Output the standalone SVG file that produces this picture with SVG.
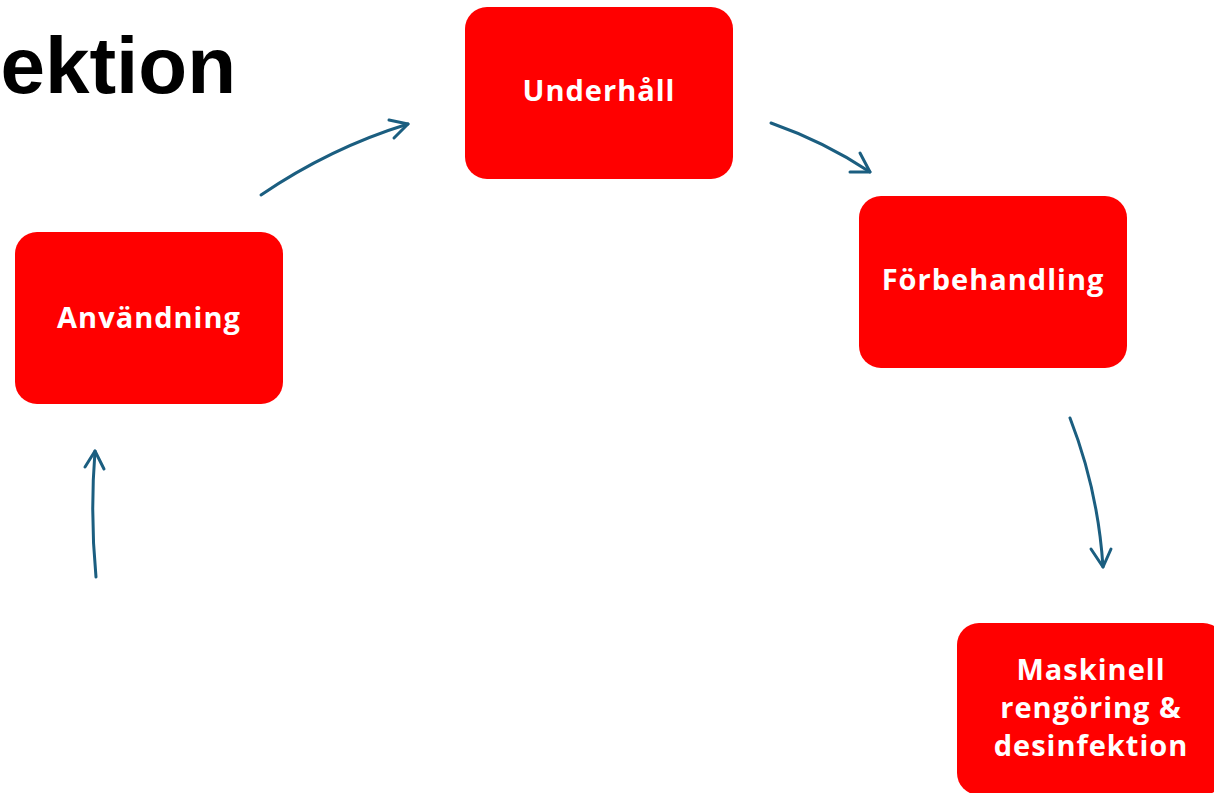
<svg xmlns="http://www.w3.org/2000/svg" width="1214" height="793" viewBox="0 0 1214 793">
  <defs>
    <style>
      .box { fill: #ff0000; }
      .label { fill: #ffffff; font-family: "Open Sans", "Liberation Sans", sans-serif; font-weight: 700; font-size: 29px; letter-spacing: 1px; text-anchor: middle; }
      .title { fill: #000000; font-family: "Liberation Sans", Arial, sans-serif; font-weight: 700; font-size: 80px; text-anchor: end; }
      .arc { fill: none; stroke: #1b5e80; stroke-width: 3; stroke-linecap: round; stroke-linejoin: round; }
    </style>
  </defs>

  <rect width="1214" height="793" fill="#ffffff"/>

  <text class="title" x="236" y="93">ektion</text>

  <g id="underhall">
    <rect class="box" x="465" y="7" width="268" height="172" rx="22"/>
    <text class="label" x="599" y="101">Underhåll</text>
  </g>

  <g id="forbehandling">
    <rect class="box" x="859" y="196" width="268" height="172" rx="22"/>
    <text class="label" x="993" y="290">Förbehandling</text>
  </g>

  <g id="maskinell">
    <rect class="box" x="957" y="623" width="268" height="172" rx="22"/>
    <text class="label" x="1091" y="680">Maskinell</text>
    <text class="label" x="1091" y="718">rengöring &amp;</text>
    <text class="label" x="1091" y="756">desinfektion</text>
  </g>

  <g id="anvandning">
    <rect class="box" x="15" y="232" width="268" height="172" rx="22"/>
    <text class="label" x="149" y="328">Användning</text>
  </g>

  <g id="connectors">
    <path class="arc" d="M261,195 Q330,148 408,124"/>
    <path class="arc" d="M389,120 L408,124 L394,138"/>
    <path class="arc" d="M771,123 Q825,142 870,172"/>
    <path class="arc" d="M860,153 L870,172 L850,172"/>
    <path class="arc" d="M1070,418 Q1098,490 1103,567"/>
    <path class="arc" d="M1091,549 L1103,567 L1111,549"/>
    <path class="arc" d="M96,577 Q90,515 95,451"/>
    <path class="arc" d="M85,467 L95,451 L104,469"/>
  </g>
</svg>
